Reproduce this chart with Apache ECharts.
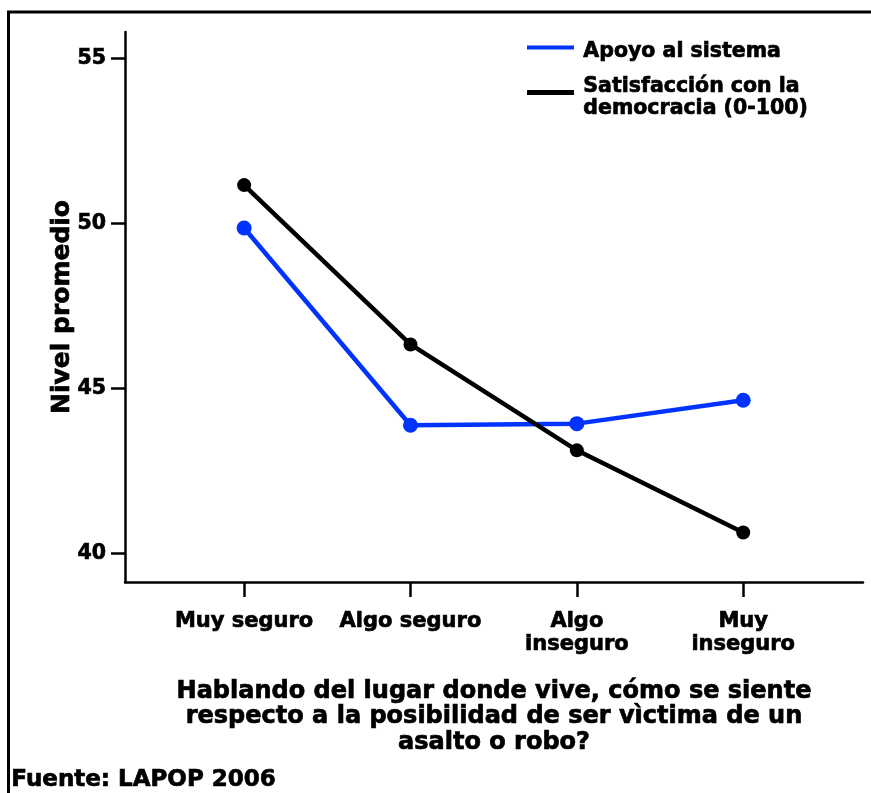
<!DOCTYPE html>
<html>
<head>
<meta charset="utf-8">
<script src="https://cdn.jsdelivr.net/npm/echarts@6/dist/echarts.min.js"></script>
<style>
  html, body { margin: 0; padding: 0; background: #fff; }
  #chart { width: 871px; height: 793px; }
</style>
</head>
<body>
<div id="chart"></div>
<script>
// Sense of safety where the respondent lives (x) vs. average score (y)
const categories = ['Muy seguro', 'Algo seguro', 'Algo\ninseguro', 'Muy\ninseguro'];
const apoyoSistema = [49.87, 43.89, 43.94, 44.65];
const satisfaccionDemocracia = [51.17, 46.34, 43.13, 40.64];
const yTicks = [40, 45, 50, 55];
const seriesNames = ['Apoyo al sistema', 'Satisfacción con la\ndemocracia (0-100)'];
const xTitle = 'Hablando del lugar donde vive, cómo se siente\nrespecto a la posibilidad de ser vìctima de un\nasalto o robo?';
const yTitle = 'Nivel promedio';
const source = 'Fuente: LAPOP 2006';

const FONT = '"DejaVu Sans", sans-serif';
const BLUE = '#0033ff';
const BLACK = '#000000';
const catIdx = categories.map((_, i) => i);
const STROKE = 0.7;

// heavy black text for axis labels and names
const heavy = (size, extra) => Object.assign({
  fontFamily: FONT, fontWeight: 'bold', fontSize: size, color: '#000',
  textBorderColor: '#000', textBorderWidth: STROKE
}, extra || {});

// same look for free-standing graphic text
const heavyText = (size, text, extra) => Object.assign({
  text: text,
  font: 'bold ' + size + 'px ' + FONT,
  fill: '#000',
  stroke: '#000',
  lineWidth: STROKE
}, extra || {});

const chart = echarts.init(document.getElementById('chart'), null, { renderer: 'canvas' });

chart.setOption({
  backgroundColor: '#fff',
  animation: false,
  grid: { left: 125, right: 8, top: 32, bottom: 211, containLabel: false },
  xAxis: {
    type: 'value',
    min: -0.716,
    max: 3.72,
    splitLine: { show: false },
    axisLine: { show: true, onZero: false, lineStyle: { color: '#000', width: 2.5 } },
    axisTick: { show: true, length: 15, lineStyle: { color: '#000', width: 2.5 }, customValues: catIdx },
    axisLabel: Object.assign(heavy(21, { lineHeight: 23, margin: 28, align: 'center' }), {
      customValues: catIdx,
      formatter: v => categories[Math.round(v)]
    }),
    name: xTitle,
    nameLocation: 'middle',
    nameGap: 97,
    nameMoveOverlap: false,
    nameTextStyle: heavy(24, { lineHeight: 25.5, align: 'center' })
  },
  yAxis: {
    type: 'value',
    min: 39.14,
    max: 55.81,
    splitLine: { show: false },
    axisLine: { show: true, onZero: false, lineStyle: { color: '#000', width: 2.5 } },
    axisTick: { show: true, length: 14, lineStyle: { color: '#000', width: 2.5 }, customValues: yTicks },
    axisLabel: Object.assign(heavy(20.5, { margin: 19 }), { customValues: yTicks }),
    name: yTitle,
    nameLocation: 'middle',
    nameRotate: 90,
    nameGap: 50,
    nameMoveOverlap: false,
    nameTextStyle: heavy(25)
  },
  series: [
    {
      name: seriesNames[0],
      type: 'line',
      data: apoyoSistema.map((v, i) => [i, v]),
      symbol: 'circle',
      symbolSize: 15,
      lineStyle: { color: BLUE, width: 4.5 },
      itemStyle: { color: BLUE },
      z: 2
    },
    {
      name: seriesNames[1],
      type: 'line',
      data: satisfaccionDemocracia.map((v, i) => [i, v]),
      symbol: 'circle',
      symbolSize: 14,
      lineStyle: { color: BLACK, width: 4.5 },
      itemStyle: { color: BLACK },
      z: 3
    }
  ],
  graphic: [
    // frame: left and top edges of the figure
    { type: 'polyline', silent: true, shape: { points: [[8.5, 900], [8.5, 12], [900, 12]] },
      style: { fill: 'none', stroke: '#000', lineWidth: 3 } },
    // legend keys
    { type: 'rect', silent: true, shape: { x: 527, y: 45.5, width: 47, height: 4 }, style: { fill: BLUE } },
    { type: 'text', silent: true, left: 583, top: 41, style: heavyText(20.5, seriesNames[0]) },
    { type: 'rect', silent: true, shape: { x: 527, y: 90, width: 47, height: 5 }, style: { fill: BLACK } },
    { type: 'text', silent: true, left: 583, top: 76, style: heavyText(20.5, seriesNames[1], { lineHeight: 22 }) },
    // source note
    { type: 'text', silent: true, left: 11, top: 768, style: heavyText(23, source) }
  ]
});
</script>
</body>
</html>
